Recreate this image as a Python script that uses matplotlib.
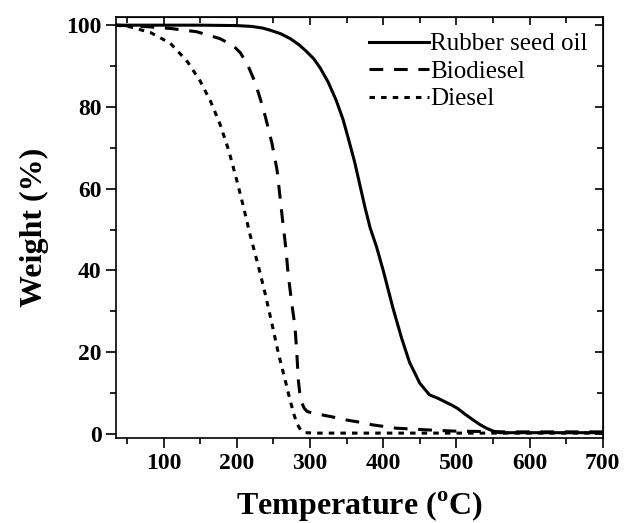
import matplotlib
matplotlib.use("Agg")
import matplotlib.pyplot as plt
from matplotlib.ticker import MultipleLocator

plt.rcParams['font.family'] = ['Liberation Serif', 'DejaVu Serif']
plt.rcParams['mathtext.fontset'] = 'custom'
plt.rcParams['mathtext.rm'] = 'Liberation Serif'
plt.rcParams['mathtext.bf'] = 'Liberation Serif:bold'

# Rubber seed oil (solid)
rso_T = [35, 100, 150, 200, 220, 235, 245, 260, 273, 285, 295, 305, 314, 325, 336, 345, 352,
         361, 368, 375, 382, 391, 400, 413, 425, 436, 450, 463, 475, 484, 494, 502,
         512, 523, 532, 541, 550, 559, 580, 620, 660, 700]
rso_W = [100, 100, 100, 99.9, 99.7, 99.3, 98.8, 97.9, 96.7, 95.2, 93.6, 91.8, 89.5, 86.0, 81.5, 77.0, 72.5,
         66.5, 61.0, 55.5, 50.5, 45.7, 40.0, 31.0, 23.5, 17.5, 12.4, 9.6, 8.7, 7.9, 7.0, 6.2,
         4.8, 3.4, 2.3, 1.4, 0.7, 0.3, 0.3, 0.3, 0.3, 0.3]

# Biodiesel (dashed)
bio_T = [35, 80, 109, 145, 177, 195, 205, 215, 225, 232, 239, 248, 255, 259, 263, 267,
         270, 275, 279.5, 282, 284, 286, 289, 292, 296, 305, 318, 335, 350, 370, 386,
         418, 459, 495, 532, 570, 620, 660, 700]
bio_W = [100, 99.6, 99.2, 98.4, 96.7, 95.0, 93.2, 90.2, 86.0, 82.0, 77.6, 71.1, 64.5, 58.0, 51.5, 45.4,
         39.3, 32.0, 26.2, 19.7, 13.2, 10.0, 7.5, 6.3, 5.5, 5.0, 4.6, 4.0, 3.4, 2.8, 2.2,
         1.4, 1.0, 0.7, 0.6, 0.5, 0.5, 0.5, 0.5]

# Diesel (dotted)
die_T = [35, 54, 82, 109, 132, 150, 164, 177, 189, 200, 209, 218, 229.5, 238.6, 247.8,
         256.8, 266, 272.7, 278, 282, 287, 293, 310, 400, 500, 600, 700]
die_W = [100, 99.6, 98.2, 95.6, 91.2, 86.3, 81.4, 75.8, 69.3, 62.0, 55.6, 48.8, 41.0, 34.4, 27.1,
         19.7, 13.2, 8.3, 4.8, 2.6, 1.0, 0.3, 0.2, 0.2, 0.2, 0.2, 0.2]

labels = ['Rubber seed oil', 'Biodiesel', 'Diesel']
xticks = [100, 200, 300, 400, 500, 600, 700]
yticks = [0, 20, 40, 60, 80, 100]

fig = plt.figure(figsize=(6.24, 5.23), dpi=100)
ax = fig.add_axes([0.186, 0.1625, 0.780, 0.805])

lw = 2.2
ax.plot(rso_T, rso_W, color='black', lw=lw, ls='-', label=labels[0])
ax.plot(bio_T, bio_W, color='black', lw=lw, ls=(0, (4.5, 3.5)), label=labels[1])
ax.plot(die_T, die_W, color='black', lw=lw, ls=(0, (1.8, 2.0)), label=labels[2])

ax.set_xlim(35, 700)
ax.set_ylim(-1, 102)
ax.set_xticks(xticks)
ax.set_yticks(yticks)
ax.xaxis.set_minor_locator(MultipleLocator(50))
ax.yaxis.set_minor_locator(MultipleLocator(10))

for s in ax.spines.values():
    s.set_linewidth(1.2)

ax.tick_params(axis='both', which='major', direction='out', length=7, width=1.2,
               labelsize=17, top=False, right=False)
ax.tick_params(axis='both', which='minor', direction='out', length=4, width=1.2,
               top=False, right=False)
for lab in ax.get_xticklabels() + ax.get_yticklabels():
    lab.set_fontweight('bold')

# inward ticks on top and right
axt = ax.secondary_xaxis('top')
axt.set_xticks(xticks)
axt.xaxis.set_minor_locator(MultipleLocator(50))
axt.tick_params(which='major', direction='in', length=6, width=1.2, labeltop=False)
axt.tick_params(which='minor', direction='in', length=4, width=1.2)
axt.set_xticklabels([])
axr = ax.secondary_yaxis('right')
axr.set_yticks(yticks)
axr.yaxis.set_minor_locator(MultipleLocator(10))
axr.tick_params(which='major', direction='in', length=6, width=1.2)
axr.tick_params(which='minor', direction='in', length=4, width=1.2)
axr.set_yticklabels([])

ax.set_xlabel(r'Temperature ($^{\mathbf{o}}$C)', fontsize=23, fontweight='bold', labelpad=12)
ax.set_ylabel('Weight (%)', fontsize=23, fontweight='bold', labelpad=12)

leg = ax.legend(loc='upper right', frameon=False, fontsize=18, handlelength=2.4,
                handletextpad=0.05, labelspacing=0.2, borderaxespad=0.2,
                bbox_to_anchor=(1.0, 0.998))

fig.savefig('out.png', dpi=100)
